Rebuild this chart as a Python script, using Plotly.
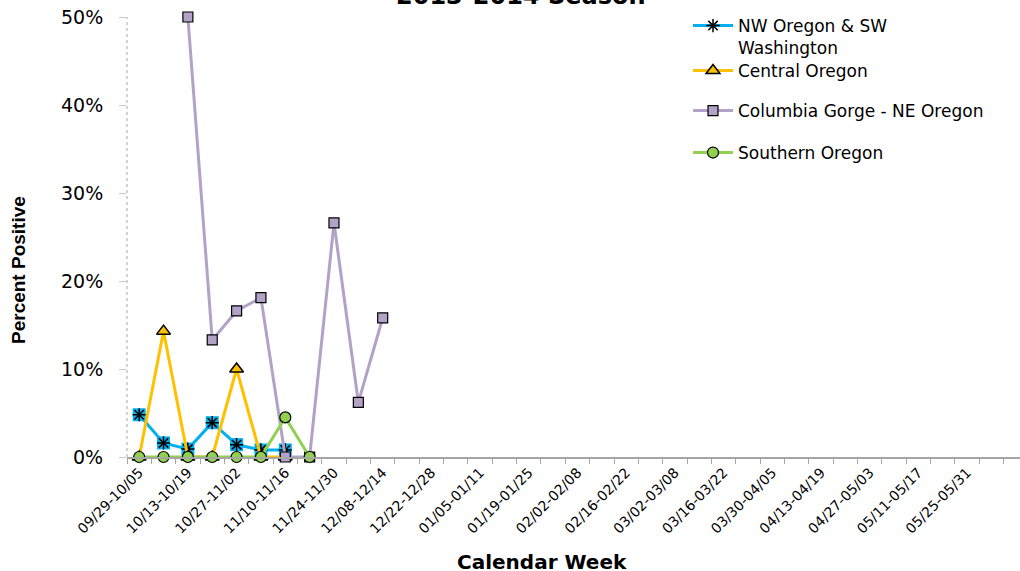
import plotly.graph_objects as go

weeks = [
    "09/29-10/05", "10/06-10/12", "10/13-10/19", "10/20-10/26", "10/27-11/02",
    "11/03-11/09", "11/10-11/16", "11/17-11/23", "11/24-11/30", "12/01-12/07",
    "12/08-12/14", "12/15-12/21", "12/22-12/28", "12/29-01/04", "01/05-01/11",
    "01/12-01/18", "01/19-01/25", "01/26-02/01", "02/02-02/08", "02/09-02/15",
    "02/16-02/22", "02/23-03/01", "03/02-03/08", "03/09-03/15", "03/16-03/22",
    "03/23-03/29", "03/30-04/05", "04/06-04/12", "04/13-04/19", "04/20-04/26",
    "04/27-05/03", "05/04-05/10", "05/11-05/17", "05/18-05/24", "05/25-05/31",
    "06/01-06/07",
]
tick_labels = [w if i % 2 == 0 else "" for i, w in enumerate(weeks)]

nw_oregon = [4.8, 1.6, 0.9, 3.9, 1.4, 0.8, 0.8]
central_oregon = [0, 14.3, 0, 0, 10.0, 0, 0]
columbia_gorge = [None, None, 50, 13.3, 16.6, 18.1, 0, 0, 26.6, 6.2, 15.8]
southern_oregon = [0, 0, 0, 0, 0, 0, 4.5, 0]

y_ticks = [0, 10, 20, 30, 40, 50]
y_tick_labels = ["0%", "10%", "20%", "30%", "40%", "50%"]

C_NW = "#00B0F0"
C_CEN = "#FFC000"
C_COL = "#B3A2C7"
C_SOU = "#92D050"

fig = go.Figure()

# NW Oregon: blue squares under black asterisks
fig.add_trace(go.Scatter(
    x=weeks[:len(nw_oregon)], y=nw_oregon, mode="markers",
    marker=dict(symbol="square", size=13, color=C_NW, line=dict(width=0)),
    showlegend=False, cliponaxis=False, hoverinfo="skip"))
fig.add_trace(go.Scatter(
    x=weeks[:len(nw_oregon)], y=nw_oregon, mode="lines+markers",
    name="NW Oregon & SW<br>Washington",
    line=dict(color=C_NW, width=3),
    marker=dict(symbol="asterisk-open", size=11, color="black",
                line=dict(color="black", width=1.5)),
    cliponaxis=False, legend="legend"))
fig.add_trace(go.Scatter(
    x=weeks[:len(central_oregon)], y=central_oregon, mode="lines+markers",
    name="Central Oregon",
    line=dict(color=C_CEN, width=3),
    marker=dict(symbol="triangle-up", size=12, color=C_CEN,
                line=dict(color="black", width=1.5)),
    cliponaxis=False, legend="legend2"))
fig.add_trace(go.Scatter(
    x=weeks[:len(columbia_gorge)], y=columbia_gorge, mode="lines+markers",
    name="Columbia Gorge - NE Oregon",
    line=dict(color=C_COL, width=3),
    marker=dict(symbol="square", size=10, color=C_COL,
                line=dict(color="black", width=1.2)),
    cliponaxis=False, legend="legend3"))
fig.add_trace(go.Scatter(
    x=weeks[:len(southern_oregon)], y=southern_oregon, mode="lines+markers",
    name="Southern Oregon",
    line=dict(color=C_SOU, width=3),
    marker=dict(symbol="circle", size=11, color=C_SOU,
                line=dict(color="black", width=1.2)),
    cliponaxis=False, legend="legend4"))

PW = 893.0
PH = 440.0
def px_x(p):
    return (p - 127) / PW
def px_y(p):
    return (457 - p) / PH

leg_font = dict(family="DejaVu Sans", size=17, color="black")
def leg(ycenter, anchor="middle"):
    return dict(x=px_x(688), y=px_y(ycenter), xanchor="left", yanchor=anchor,
                font=leg_font, bgcolor="rgba(0,0,0,0)", valign="top", itemwidth=40)

fig.update_layout(
    width=1020, height=571,
    margin=dict(l=127, r=0, t=17, b=114),
    plot_bgcolor="white", paper_bgcolor="white",
    legend=leg(8, "top"),
    legend2=leg(71),
    legend3=leg(111),
    legend4=leg(153),
    xaxis=dict(
        type="category", categoryorder="array", categoryarray=weeks,
        range=[-0.5, 36.17], tickson="boundaries",
        tickmode="array", tickvals=weeks, ticktext=tick_labels,
        tickangle=-45, ticks="outside", ticklen=5, tickcolor="#A6A6A6",
        tickfont=dict(family="DejaVu Sans", size=14, color="black"),
        showline=True, linecolor="#A6A6A6", linewidth=2,
        showgrid=False, zeroline=False,
    ),
    yaxis=dict(
        range=[0, 50], tickmode="array", tickvals=y_ticks, ticktext=y_tick_labels,
        ticks="outside", ticklen=7, tickcolor="#C8C8C8",
        tickfont=dict(family="DejaVu Sans", size=19, color="black"),
        ticklabelstandoff=12,
        showline=False, showgrid=False, zeroline=False,
    ),
    shapes=[dict(type="line", xref="paper", yref="paper", x0=0, x1=0, y0=0, y1=1,
                 line=dict(color="#A6A6A6", width=1, dash="dot"))],
    annotations=[
        dict(text="<b>2013-2014 Season</b>", xref="paper", yref="paper",
             x=px_x(521), y=px_y(12), xanchor="center", yanchor="bottom",
             showarrow=False, font=dict(family="DejaVu Sans", size=24, color="black")),
        dict(text="<b>Calendar Week</b>", xref="paper", yref="paper",
             x=px_x(542), y=px_y(562), xanchor="center", yanchor="middle",
             showarrow=False, font=dict(family="DejaVu Sans", size=20, color="black")),
        dict(text="<b>Percent Positive</b>", xref="paper", yref="paper",
             x=px_x(18), y=px_y(270), xanchor="center", yanchor="middle",
             textangle=-90, showarrow=False,
             font=dict(family="Liberation Sans", size=19, color="black")),
    ],
)

fig.write_html("out.html", config={"displayModeBar": False},
               post_script="document.body.style.margin='0';")
